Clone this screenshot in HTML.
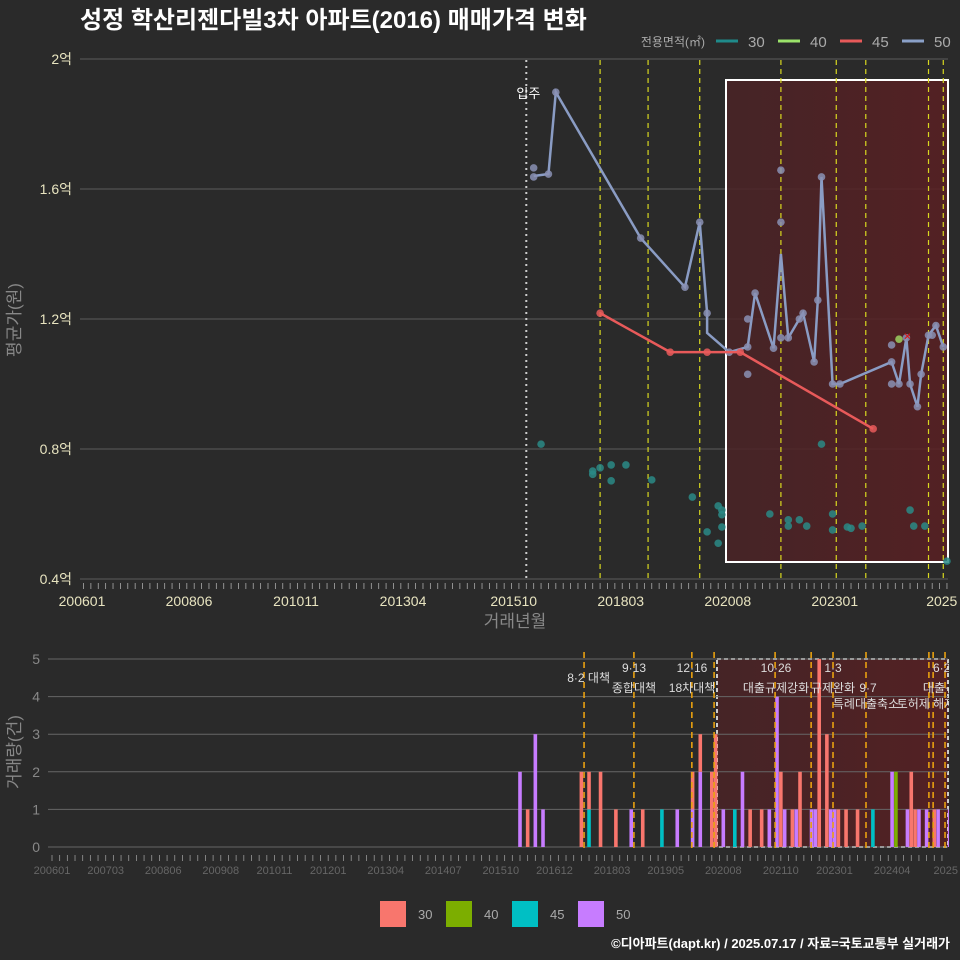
<!DOCTYPE html>
<html><head><meta charset="utf-8">
<style>
body{margin:0;background:#2a2a2a;}
svg{display:block;font-family:"Liberation Sans","Noto Sans CJK KR",sans-serif;}
</style></head>
<body>
<svg id="c" width="960" height="960" viewBox="0 0 960 960">
<defs>
<linearGradient id="rg" x1="0" x2="1" y1="0" y2="0">
<stop offset="0" stop-color="#4a2326" stop-opacity="0.85"/>
<stop offset="1" stop-color="#5a1f22" stop-opacity="0.85"/>
</linearGradient>
</defs>
<rect width="960" height="960" fill="#2a2a2a"/>
<text x="80" y="28" font-size="24" font-weight="bold" fill="#ffffff">성정 학산리젠다빌3차 아파트(2016) 매매가격 변화</text>
<g id="topchart"></g>
<g id="botchart"></g>
<text x="950" y="948" font-size="13" font-weight="bold" fill="#ffffff" text-anchor="end">©디아파트(dapt.kr) / 2025.07.17 / 자료=국토교통부 실거래가</text>
</svg>
<script>
// ---------- top chart data (month index since 2006-01) ----------
const line50M = [122,126,128,151,163,167,169,169,175,180,182,187,189,191,194,195,198,199,200,203,205,219,221,223,224,226,227,229,231,233];
const line50V = [1.64,1.646,1.898,1.449,1.298,1.498,1.218,1.157,1.098,1.114,1.28,1.11,1.40,1.142,1.20,1.218,1.068,1.258,1.637,1.0,1.0,1.068,1.0,1.142,1.0,0.93,1.03,1.15,1.18,1.114];
const pts50M = [122,122,126,128,151,163,167,169,175,180,180,180,182,187,189,189,189,191,194,195,198,199,200,203,205,219,219,219,221,223,224,226,227,229,230,231,233];
const pts50V = [1.665,1.637,1.646,1.898,1.449,1.298,1.498,1.218,1.098,1.2,1.114,1.03,1.28,1.11,1.142,1.498,1.658,1.142,1.2,1.218,1.068,1.258,1.637,1.0,1.0,1.12,1.0,1.068,1.0,1.142,1.0,0.93,1.03,1.15,1.15,1.18,1.114];
const line45M = [140,159,178,214];
const line45V = [1.218,1.098,1.098,0.862];
const pts45M = [140,159,169,178,214];
const pts45V = [1.218,1.098,1.098,1.098,0.862];
const pts40M = [221]; const pts40V = [1.138];
const pts30M = [124,138,138,140,143,143,147,154,165,169,173,173,173,172,172,186,191,191,194,196,203,203,207,208,211,224,225,228,234,200];
const pts30V = [0.815,0.732,0.722,0.742,0.751,0.702,0.751,0.705,0.652,0.545,0.612,0.598,0.56,0.625,0.51,0.6,0.582,0.563,0.582,0.563,0.6,0.551,0.56,0.556,0.563,0.612,0.563,0.563,0.455,0.815];
const yTicks = [0.4,0.8,1.2,1.6,2.0];
const yTickLabels = ["0.4억","0.8억","1.2억","1.6억","2억"];
const xTickM = [0,29,58,87,117,146,175,204,233];
const xTickLabels = ["200601","200806","201011","201304","201510","201803","202008","202301","2025"];
const topEvents = [140,153,167,189,204,212,229,233];
// ---------- bottom chart data ----------
const barM   = [122,124,126,128,138,140,143,147,151,154,159,163,167,169,172,173,175,178,180,182,185,187,189,190,191,193,194,195,198,199,200,202,203,204,205,207,210,214,219,220,223,224,225,226,228,230,231,234];
const bar30  = [0,1,0,0,2,1,2,1,0,1,0,0,1,1,2,3,0,0,0,1,1,0,0,2,0,1,0,2,0,0,5,3,0,0,1,1,1,0,0,0,0,2,1,0,0,1,0,0];
const bar40  = [0,0,0,0,0,0,0,0,0,0,0,0,0,0,0,0,0,0,0,0,0,0,0,0,0,0,0,0,0,0,0,0,0,0,0,0,0,0,0,2,0,0,0,0,0,0,0,0];
const bar45  = [0,0,0,0,0,1,0,0,0,0,1,0,0,0,0,0,0,1,0,0,0,0,0,0,0,0,0,0,0,0,0,0,0,0,0,0,0,1,0,0,0,0,0,0,0,0,0,0];
const bar50  = [2,0,3,1,0,0,0,0,1,0,0,1,1,2,0,0,1,0,2,0,0,1,4,0,1,0,1,0,1,1,0,0,1,1,0,0,0,0,2,0,1,0,0,1,1,0,1,1];
const botEvents = [138.7,151.7,166.8,172.6,188.5,197.9,203.6,212.2,228.6,229.7,232.8];
const botXTickM = [0,14,29,44,58,72,87,102,117,131,146,160,175,190,204,219,233];
const botXTickLabels = ["200601","200703","200806","200908","201011","201201","201304","201407","201510","201612","201803","201905","202008","202110","202301","202404","2025"];
const botYTicks = [0,1,2,3,4,5];

const NS="http://www.w3.org/2000/svg";
function mk(parent,tag,attrs){const e=document.createElementNS(NS,tag);for(const k in attrs)e.setAttribute(k,attrs[k]);parent.appendChild(e);return e;}
const gTop=document.getElementById('topchart'), gBot=document.getElementById('botchart');
const xT=m=>83.5+3.69*m, yT=v=>579-(v-0.4)*325;
const xB=m=>52+3.836*m, yB=v=>847-v*37.6;

yTicks.forEach((v,i)=>{
 let g=mk(gTop,'line',{x1:80,x2:948,y1:yT(v),y2:yT(v),stroke:'#5c5c5c','stroke-width':1});
 
 
 let t=mk(gTop,'text',{x:72,y:yT(v)+5,'font-size':14,fill:'#e8e4c0','text-anchor':'end'});t.textContent=yTickLabels[i];
 
 
});
for(let m=0;m<=234;m+=2){mk(gTop,'line',{x1:xT(m),x2:xT(m),y1:583,y2:589,stroke:'#aaa','stroke-width':0.8});}
xTickM.forEach((m,i)=>{let t=mk(gTop,'text',{x:xT(m)-1.5,y:606,'font-size':14,fill:'#e8e4c0','text-anchor':'middle'});t.textContent=xTickLabels[i];
 
 });
let bx=mk(gTop,'rect',{x:726,y:80,width:222,height:482,fill:'url(#rg)',stroke:'#ffffff','stroke-width':2});


let mv=mk(gTop,'line',{x1:xT(120),x2:xT(120),y1:60,y2:579,stroke:'#cccccc','stroke-width':2,'stroke-dasharray':'2,4'});


let mvt=mk(gTop,'text',{x:xT(120)+14,y:98,'font-size':13,fill:'#fff','text-anchor':'end'});mvt.textContent='입주';


topEvents.forEach(m=>{let l=mk(gTop,'line',{x1:xT(m),x2:xT(m),y1:60,y2:579,stroke:'#d8d820','stroke-width':1.2,'stroke-dasharray':'5,4'});
 
 });
function pl(M,V,col,name){let p=mk(gTop,'polyline',{points:M.map((m,i)=>xT(m)+','+yT(V[i])).join(' '),fill:'none',stroke:col,'stroke-width':2.5});
 
 }
function sc(M,V,col,name){M.forEach((m,i)=>{let c=mk(gTop,'circle',{cx:xT(m),cy:yT(V[i]),r:3.8,fill:col,'fill-opacity':0.85});
 
 });}
sc(pts30M,pts30V,'#2a8a86','point-30');
pl(line50M,line50V,'#8a9cc4','line-50');
sc(pts50M,pts50V,'#8a90b4','point-50');
pl(line45M,line45V,'#e85a5a','line-45');
sc(pts45M,pts45V,'#e85a5a','point-45');
sc(pts40M,pts40V,'#9bd060','point-40');
let xm=mk(gTop,'text',{x:xT(223)+1,y:yT(1.15)+5,'font-size':13,fill:'#e01010','text-anchor':'middle'});xm.textContent='×';


let yt=mk(gTop,'text',{x:20,y:320,'font-size':17,fill:'#888','text-anchor':'middle',transform:'rotate(-90 20 320)'});yt.textContent='평균가(원)';


let xtt=mk(gTop,'text',{x:515,y:627,'font-size':17,fill:'#888','text-anchor':'middle'});xtt.textContent='거래년월';


let lt=mk(gTop,'text',{x:705,y:46,'font-size':12,fill:'#aaa','text-anchor':'end'});lt.textContent='전용면적(㎡)';


[['30','#1f8a8a'],['40','#9be26a'],['45','#e85a5a'],['50','#8aa0c8']].forEach((d,i)=>{
 const x0=716+i*62;
 let g=mk(gTop,'g',{});
 
 
 mk(g,'line',{x1:x0,x2:x0+22,y1:41,y2:41,stroke:d[1],'stroke-width':3});
 let t=mk(g,'text',{x:x0+32,y:47,'font-size':15,fill:'#aaa'});t.textContent=d[0];
});

// bottom
let bbx=mk(gBot,'rect',{x:717,y:659,width:231,height:188,fill:'url(#rg)',stroke:'#cccccc','stroke-width':2,'stroke-dasharray':'4,3'});


botYTicks.forEach(v=>{let g=mk(gBot,'line',{x1:48,x2:948,y1:yB(v),y2:yB(v),stroke:'#666','stroke-width':1});
 
 
 let t=mk(gBot,'text',{x:40,y:yB(v)+5,'font-size':14,fill:'#888','text-anchor':'end'});t.textContent=v;
 
 });
for(let m=0;m<=234;m+=2){mk(gBot,'line',{x1:xB(m),x2:xB(m),y1:855,y2:861,stroke:'#999','stroke-width':0.8});}
botXTickM.forEach((m,i)=>{let t=mk(gBot,'text',{x:xB(m),y:874,'font-size':11,fill:'#666','text-anchor':'middle'});t.textContent=botXTickLabels[i];
 
 });
const cols={c50:'#C77CFF',c45:'#00BFC4',c40:'#7CAE00',c30:'#F8766D'};
barM.forEach((m,i)=>{let base=0;[['c50',bar50],['c45',bar45],['c40',bar40],['c30',bar30]].forEach(([k,arr])=>{const v=arr[i];if(!v)return;
 let r=mk(gBot,'rect',{x:xB(m)-1.8,y:yB(base+v),width:3.6,height:yB(base)-yB(base+v),fill:cols[k]});
 
 
 base+=v;});});
botEvents.forEach(m=>{let l=mk(gBot,'line',{x1:xB(m),x2:xB(m),y1:652,y2:852,stroke:'#e8a010','stroke-width':1.6,'stroke-dasharray':'6,4'});
 
 });
const ann=[[610,682,'8·2 대책','end'],[634,672,'9·13','middle'],[634,692,'종합대책','middle'],[692,672,'12·16','middle'],[692,692,'18차대책','middle'],[776,672,'10·26','middle'],[776,692,'대출규제강화','middle'],[833,672,'1·3','middle'],[833,692,'규제완화','middle'],[868,692,'9·7','middle'],[866,708,'특례대출축소','middle'],[926,708,'토허제 해제','middle'],[945,672,'6·27','middle'],[945,692,'대출규제','middle']];
ann.forEach(a=>{let t=mk(gBot,'text',{x:a[0],y:a[1],'font-size':12,fill:'#ddd','text-anchor':a[3]});t.textContent=a[2];
 
 });
mk(gBot,'rect',{x:949,y:640,width:11,height:225,fill:'#2a2a2a'});
let byt=mk(gBot,'text',{x:20,y:752,'font-size':17,fill:'#888','text-anchor':'middle',transform:'rotate(-90 20 752)'});byt.textContent='거래량(건)';


[['30','#F8766D'],['40','#7CAE00'],['45','#00BFC4'],['50','#C77CFF']].forEach((d,i)=>{
 const x0=380+i*66;
 let g=mk(gBot,'g',{});
 
 
 mk(g,'rect',{x:x0,y:901,width:26,height:26,fill:d[1]});
 let t=mk(g,'text',{x:x0+38,y:919,'font-size':13,fill:'#aaa'});t.textContent=d[0];
});
</script>
</body></html>
